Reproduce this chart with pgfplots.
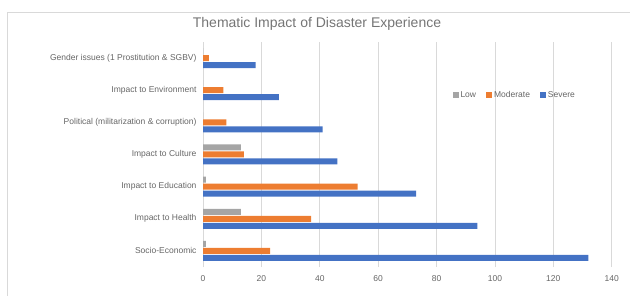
\documentclass[border=0pt]{standalone}
\usepackage{pgfplots}
\pgfplotsset{compat=1.18}
\usepackage{fontspec}
\setmainfont{Liberation Sans}
\definecolor{cLow}{HTML}{A5A5A5}
\definecolor{cMod}{HTML}{ED7D31}
\definecolor{cSev}{HTML}{4472C4}
\definecolor{cGrid}{HTML}{D9D9D9}
\definecolor{cText}{HTML}{666666}
\definecolor{cTitle}{HTML}{757575}
\pgfplotstableread{
y low mod sev
0 1 23 132
1 13 37 94
2 1 53 73
3 13 14 46
4 0 8 41
5 0 7 26
6 0 2 18
}\datatable
\begin{document}
\begin{tikzpicture}
\useasboundingbox (0,0) rectangle (630bp,296bp);
\draw[cGrid, line width=0.8bp] (7.5bp,0) -- (7.5bp,284bp) -- (630bp,284bp);
\node[font=\fontsize{14bp}{16bp}\selectfont, text=cTitle] at (317bp,272.5bp) {Thematic Impact of Disaster Experience};
\begin{axis}[
  at={(203bp,29bp)}, anchor=south west,
  scale only axis, width=408.7bp, height=225bp,
  xmin=0, xmax=140, ymin=-0.5, ymax=6.5,
  xbar, bar width=6bp,
  xtick={0,20,...,140},
  ytick={0,1,2,3,4,5,6},
  yticklabels={Socio-Economic, Impact to Health, Impact to Education, Impact to Culture, Political (militarization \& corruption), Impact to Environment, Gender issues (1 Prostitution \& SGBV)},
  xmajorgrids, grid style={cGrid, line width=0.8bp},
  axis line style={draw=none},
  major tick length=0pt,
  tick label style={font=\fontsize{8.5bp}{10bp}\selectfont, text=cText},
  /pgf/number format/assume math mode=true,
  xticklabel style={yshift=-5bp},
  yticklabel style={xshift=-3bp},
  legend style={draw=none, fill=none, font=\fontsize{8.5bp}{10bp}\selectfont, text=cText,
    at={(0.61,0.764)}, anchor=west, /tikz/every even column/.append style={column sep=8bp},
    inner sep=0pt},
  legend columns=3,
  legend image code/.code={\fill[#1] (0bp,-3bp) rectangle (6bp,3bp);},
]
\addplot[fill=cLow, draw=none, bar shift=7bp] table[x=low, y=y] {\datatable};
\addplot[fill=cMod, draw=none, bar shift=0bp] table[x=mod, y=y] {\datatable};
\addplot[fill=cSev, draw=none, bar shift=-7bp] table[x=sev, y=y] {\datatable};
\legend{Low, Moderate, Severe}
\end{axis}
\end{tikzpicture}
\end{document}
